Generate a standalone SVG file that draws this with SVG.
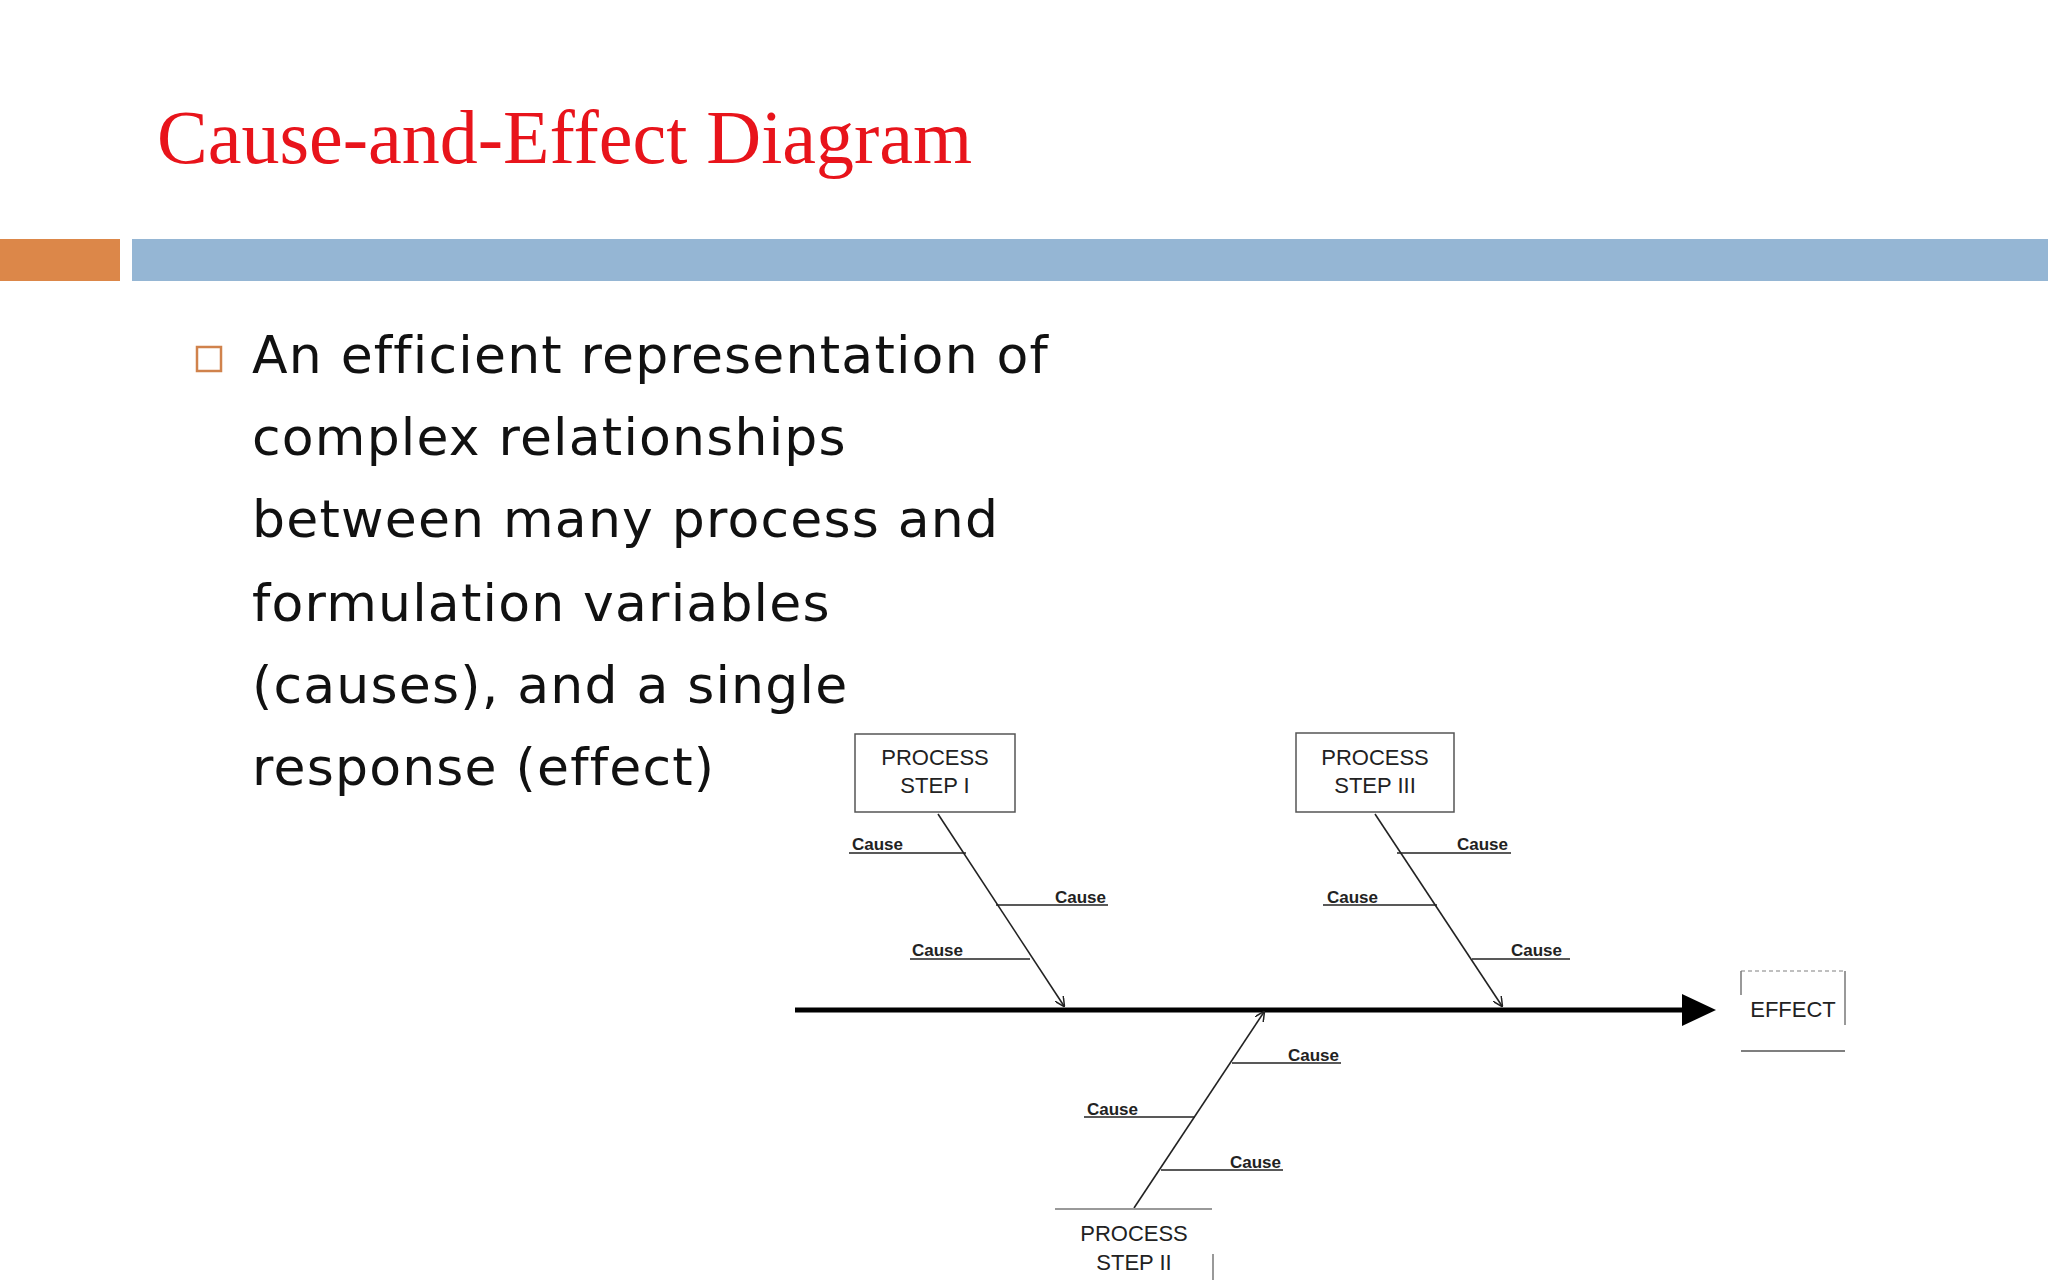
<svg xmlns="http://www.w3.org/2000/svg" width="2048" height="1280" viewBox="0 0 2048 1280">
<style>
.t{font-family:"DejaVu Sans","Liberation Sans",sans-serif;font-size:52px;letter-spacing:1.2px;fill:#111}
.box{fill:#fff;stroke:#555;stroke-width:1.5}
.pl{font-family:"Liberation Sans",Arial,sans-serif;font-size:22px;fill:#222;text-anchor:middle}
.c{font-family:"Liberation Sans",Arial,sans-serif;font-size:17px;font-weight:bold;fill:#222}
.ln{stroke:#222;stroke-width:1.6;fill:none}
</style>
<defs>
<marker id="open" viewBox="0 0 10 10" refX="9" refY="5" markerWidth="10" markerHeight="10" markerUnits="userSpaceOnUse" orient="auto"><path d="M0,0 L10,5 L0,10" fill="none" stroke="#222" stroke-width="1.5"/></marker>
</defs>
<rect width="2048" height="1280" fill="#fff"/>
<text x="157" y="163" font-family="Liberation Serif,serif" font-size="76" fill="#e8141b">Cause-and-Effect Diagram</text>
<rect x="0" y="239" width="120" height="42" fill="#dc8749"/>
<rect x="132" y="239" width="1916" height="42" fill="#95b6d4"/>
<rect x="197" y="347" width="24" height="24" fill="none" stroke="#d0824c" stroke-width="2.5"/>
<text class="t" x="252" y="373">An efficient representation of</text>
<text class="t" x="252" y="455">complex relationships</text>
<text class="t" x="252" y="537">between many process and</text>
<text class="t" x="252" y="621">formulation variables</text>
<text class="t" x="252" y="703">(causes), and a single</text>
<text class="t" x="252" y="785">response (effect)</text>
<g id="connectors">
<line x1="795" y1="1010" x2="1690" y2="1010" stroke="#000" stroke-width="5"/>
<path d="M1682,994 L1716,1010 L1682,1026 Z" fill="#000"/>
<line class="ln" x1="938" y1="814" x2="1064" y2="1006" marker-end="url(#open)"/>
<line class="ln" x1="1375" y1="814" x2="1502" y2="1006" marker-end="url(#open)"/>
<line class="ln" x1="1134" y1="1208" x2="1264" y2="1012" marker-end="url(#open)"/>
<line class="ln" x1="849" y1="853" x2="966" y2="853"/>
<line class="ln" x1="996" y1="905" x2="1108" y2="905"/>
<line class="ln" x1="910" y1="959" x2="1030" y2="959"/>
<line class="ln" x1="1397" y1="853" x2="1511" y2="853"/>
<line class="ln" x1="1323" y1="905" x2="1437" y2="905"/>
<line class="ln" x1="1472" y1="959" x2="1570" y2="959"/>
<line class="ln" x1="1232" y1="1063" x2="1341" y2="1063"/>
<line class="ln" x1="1084" y1="1117" x2="1195" y2="1117"/>
<line class="ln" x1="1161" y1="1170" x2="1283" y2="1170"/>
</g>
<g id="causes">
<text class="c" x="852" y="850">Cause</text>
<text class="c" x="1055" y="903">Cause</text>
<text class="c" x="912" y="956">Cause</text>
<text class="c" x="1457" y="850">Cause</text>
<text class="c" x="1327" y="903">Cause</text>
<text class="c" x="1511" y="956">Cause</text>
<text class="c" x="1288" y="1061">Cause</text>
<text class="c" x="1087" y="1115">Cause</text>
<text class="c" x="1230" y="1168">Cause</text>
</g>
<g id="step1">
<rect class="box" x="855" y="734" width="160" height="78"/>
<text class="pl" x="935" y="765">PROCESS</text>
<text class="pl" x="935" y="793">STEP I</text>
</g>
<g id="step3">
<rect class="box" x="1296" y="733" width="158" height="79"/>
<text class="pl" x="1375" y="765">PROCESS</text>
<text class="pl" x="1375" y="793">STEP III</text>
</g>
<g id="step2">
<line x1="1055" y1="1209" x2="1212" y2="1209" stroke="#999" stroke-width="2"/>
<line x1="1213" y1="1254" x2="1213" y2="1280" stroke="#777" stroke-width="1.5"/>
<text class="pl" x="1134" y="1241">PROCESS</text>
<text class="pl" x="1134" y="1270">STEP II</text>
</g>
<g id="effect">
<line x1="1741" y1="971" x2="1843" y2="971" stroke="#aaa" stroke-width="1.5" stroke-dasharray="4,3"/>
<line x1="1741" y1="971" x2="1741" y2="995" stroke="#777" stroke-width="1.5"/>
<line x1="1845" y1="971" x2="1845" y2="1025" stroke="#777" stroke-width="1.5"/>
<line x1="1741" y1="1051" x2="1845" y2="1051" stroke="#555" stroke-width="1.5"/>
<text class="pl" x="1793" y="1017">EFFECT</text>
</g>
</svg>
